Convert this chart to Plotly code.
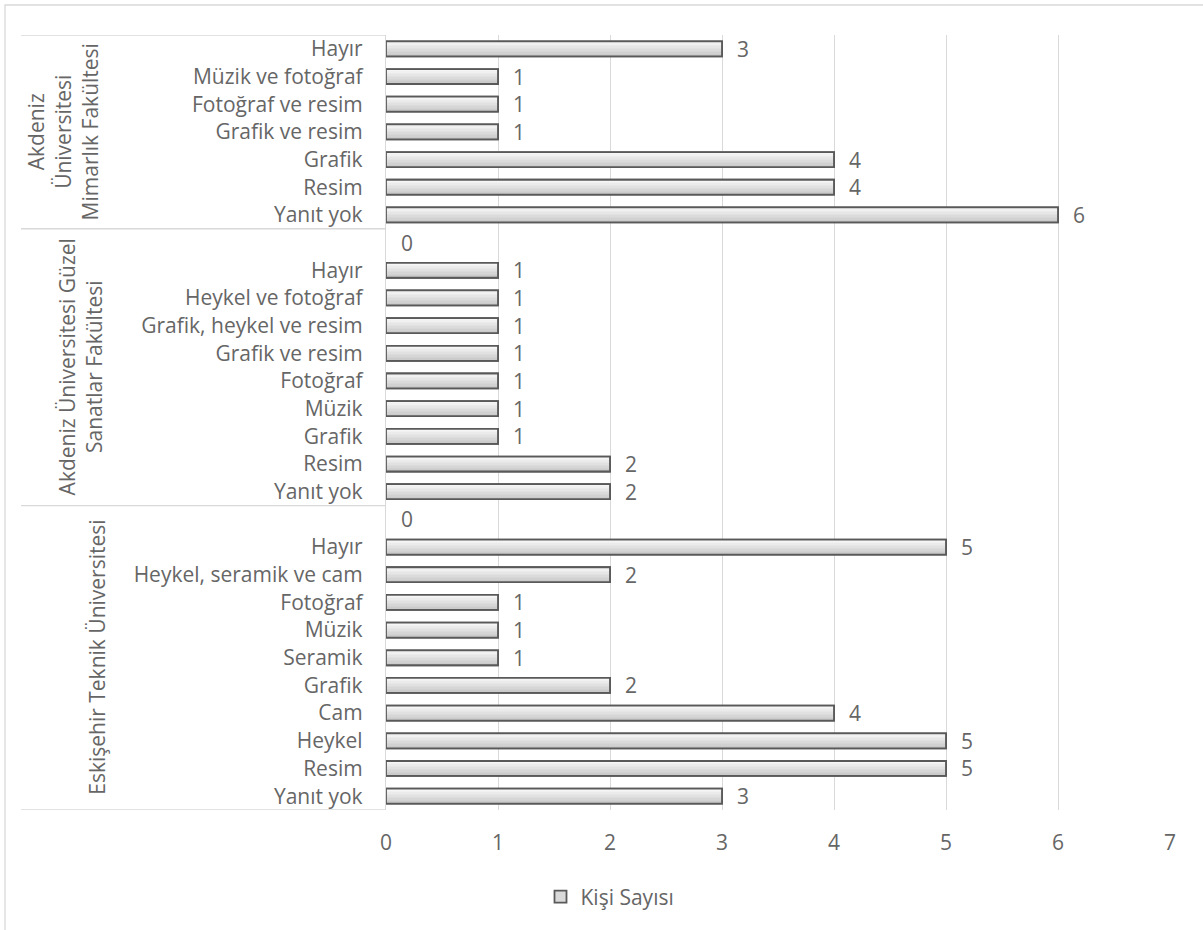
import plotly.graph_objects as go

# ---- data (bottom to top, as drawn) ----
group_names = [
    "Eskişehir Teknik Üniversitesi",
    "Akdeniz Üniversitesi Güzel<br>Sanatlar Fakültesi",
    "Akdeniz<br>Üniversitesi<br>Mimarlık Fakültesi",
]
eskisehir_cats = ["Yanıt yok", "Resim", "Heykel", "Cam", "Grafik", "Seramik",
                  "Müzik", "Fotoğraf", "Heykel, seramik ve cam", "Hayır", ""]
eskisehir_vals = [3, 5, 5, 4, 2, 1, 1, 1, 2, 5, 0]
gsf_cats = ["Yanıt yok", "Resim", "Grafik", "Müzik", "Fotoğraf", "Grafik ve resim",
            "Grafik, heykel ve resim", "Heykel ve fotoğraf", "Hayır", ""]
gsf_vals = [2, 2, 1, 1, 1, 1, 1, 1, 1, 0]
mim_cats = ["Yanıt yok", "Resim", "Grafik", "Grafik ve resim", "Fotoğraf ve resim",
            "Müzik ve fotoğraf", "Hayır"]
mim_vals = [6, 4, 4, 1, 1, 1, 3]
x_ticks = [0, 1, 2, 3, 4, 5, 6, 7]
series_name = "Kişi Sayısı"

# ---- build ----
group_cats = [eskisehir_cats, gsf_cats, mim_cats]
group_vals = [eskisehir_vals, gsf_vals, mim_vals]
labels, values = [], []
for c, v in zip(group_cats, group_vals):
    labels += c
    values += v
pos = list(range(len(labels)))
bar_x = [v if v != 0 else None for v in values]

FONT = "Open Sans"
TXT = "#666666"
FS = 21
W = 0.54
N = 10

fig = go.Figure()
fig.add_trace(go.Bar(
    x=bar_x, y=pos, orientation="h", width=W, name=series_name,
    marker=dict(color="#d9d9d9", line=dict(color="#595959", width=1.8)),
    showlegend=True, hoverinfo="skip"))


def lerp(a, b, t):
    return int(round(a + (b - a) * t))


for k in range(N):
    t = k / (N - 1)
    c = lerp(198, 246, t)
    col = f"rgb({c},{c},{c})"
    fig.add_trace(go.Bar(
        x=bar_x, y=pos, orientation="h", width=W / N * 1.15,
        offset=-W / 2 + k * W / N, marker=dict(color=col, line=dict(width=0)),
        showlegend=False, hoverinfo="skip"))
fig.add_trace(go.Bar(
    x=bar_x, y=pos, orientation="h", width=W,
    marker=dict(color="rgba(0,0,0,0)", line=dict(color="#595959", width=1.8)),
    showlegend=False, hoverinfo="skip"))

annotations = []
for p, v in zip(pos, values):
    annotations.append(dict(x=v, y=p, xref="x", yref="y", text=str(v),
                            showarrow=False, xanchor="left", yanchor="middle",
                            xshift=13, font=dict(family=FONT, size=FS, color=TXT)))

FIG_W, FIG_H = 1203, 930
PLOT_L, PLOT_R, PLOT_T, PLOT_B = 386, 1170, 35, 810
pw = PLOT_R - PLOT_L
ph = PLOT_B - PLOT_T
shapes = []
start = 0
bounds = [-0.5]
for gi, c in enumerate(group_cats):
    n = len(c)
    lo, hi = start - 0.5, start + n - 0.5
    bounds.append(hi)
    nlines = group_names[gi].count("<br>") + 1
    cx = 97 - (nlines - 1) * 16.75
    annotations.append(dict(x=0, y=(lo + hi) / 2, xref="paper", yref="y",
                            text=group_names[gi], showarrow=False, textangle=-90,
                            xanchor="center", yanchor="middle", xshift=-(PLOT_L - cx),
                            font=dict(family=FONT, size=FS, color=TXT)))
    start += n
for b in bounds:
    shapes.append(dict(type="line", xref="paper", yref="y",
                       x0=(21 - PLOT_L) / pw, x1=0, y0=b, y1=b,
                       line=dict(color="#d9d9d9", width=1.3)))
shapes.append(dict(type="rect", xref="paper", yref="paper",
                   x0=(5 - PLOT_L) / pw, x1=(1215 - PLOT_L) / pw,
                   y0=(PLOT_B - 945) / ph, y1=(PLOT_B - 5) / ph,
                   line=dict(color="#d9d9d9", width=1.3), fillcolor="rgba(0,0,0,0)"))

fig.update_layout(
    width=FIG_W, height=FIG_H, autosize=False,
    margin=dict(l=PLOT_L, r=FIG_W - PLOT_R, t=PLOT_T, b=FIG_H - PLOT_B),
    paper_bgcolor="white", plot_bgcolor="white",
    barmode="overlay", showlegend=True,
    font=dict(family=FONT, size=FS, color=TXT),
    xaxis=dict(range=[0, 7], tickvals=x_ticks, ticktext=[str(t) for t in x_ticks],
               showgrid=True, gridcolor="#d9d9d9", gridwidth=1.3, zeroline=False,
               showline=False, ticks="outside", ticklen=14,
               tickcolor="rgba(0,0,0,0)", tickfont=dict(family=FONT, size=FS, color=TXT)),
    yaxis=dict(range=[-0.5, len(labels) - 0.5], tickvals=pos, ticktext=labels,
               showgrid=False, zeroline=False, showline=True, linecolor="#d9d9d9",
               linewidth=1.3, ticks="outside", ticklen=18, tickcolor="rgba(0,0,0,0)",
               tickfont=dict(family=FONT, size=FS, color=TXT)),
    legend=dict(orientation="h", x=(610 - PLOT_L) / pw, xanchor="center",
                y=(PLOT_B - 897) / ph, yanchor="middle",
                font=dict(family=FONT, size=FS, color=TXT), bgcolor="rgba(0,0,0,0)"),
    annotations=annotations, shapes=shapes,
)

fig.write_html("out.html", config={"displayModeBar": False},
               post_script="document.body.style.margin='0px';document.body.style.overflow='hidden';")
